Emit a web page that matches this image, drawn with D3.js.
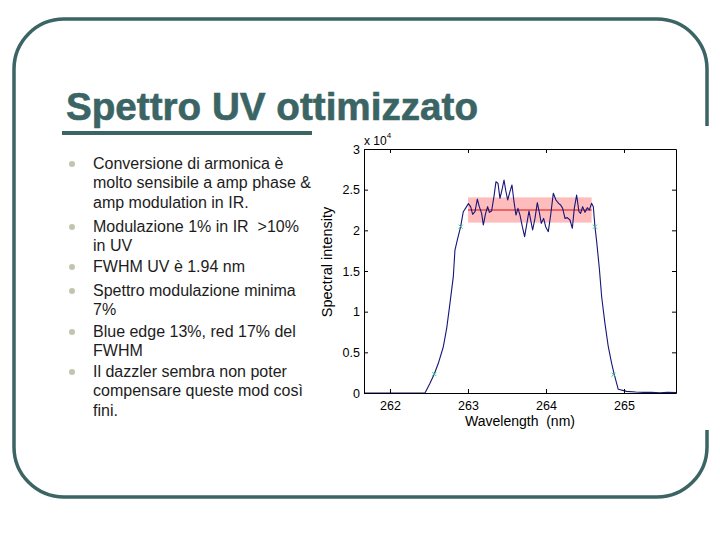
<!DOCTYPE html>
<html>
<head>
<meta charset="utf-8">
<script src="https://cdn.jsdelivr.net/npm/d3@7"></script>
<style>
  html, body { margin: 0; padding: 0; background: #fff; }
  svg { display: block; }
  text { white-space: pre; }
</style>
</head>
<body>
<svg id="slide" width="720" height="540"></svg>
<script>
// ---------------- DATA ----------------
const titleText = "Spettro UV ottimizzato";
const bullets = [
  ["Conversione di armonica è", "molto sensibile a amp phase &", "amp modulation in IR."],
  ["Modulazione 1% in IR  >10%", "in UV"],
  ["FWHM UV è 1.94 nm"],
  ["Spettro modulazione minima", "7%"],
  ["Blue edge 13%, red 17% del", "FWHM"],
  ["Il dazzler sembra non poter", "compensare queste mod così", "fini."]
];

// wavelength (nm) and spectral intensity (x 10^4)
const wavelength = [
  261.667, 261.9, 262.1, 262.3, 262.449, 262.513, 262.568, 262.620, 262.684, 262.727,
  262.769, 262.812, 262.833, 262.863, 262.906, 262.940, 262.974, 263.004, 263.034, 263.060,
  263.090, 263.120, 263.145, 263.175, 263.197, 263.226, 263.252, 263.274, 263.303, 263.333,
  263.359, 263.385, 263.410, 263.436, 263.462, 263.483, 263.509, 263.538, 263.564, 263.590,
  263.615, 263.641, 263.667, 263.697, 263.726, 263.752, 263.782, 263.808, 263.829, 263.859,
  263.889, 263.915, 263.940, 263.970, 263.996, 264.030, 264.060, 264.094, 264.128, 264.162,
  264.188, 264.214, 264.244, 264.273, 264.308, 264.338, 264.363, 264.393, 264.423, 264.444,
  264.470, 264.500, 264.530, 264.556, 264.585, 264.607, 264.628, 264.650, 264.684, 264.714,
  264.756, 264.799, 264.842, 264.872, 264.906, 264.927, 265.034, 265.150, 265.248, 265.350,
  265.462, 265.560, 265.667
];
const intensity = [
  0, 0, 0, 0, 0, 0.119, 0.233, 0.365, 0.569, 0.795,
  1.102, 1.430, 1.758, 1.881, 2.045, 2.229, 2.279, 2.328, 2.291, 2.197,
  2.229, 2.385, 2.291, 2.209, 2.066, 2.209, 2.291, 2.221, 2.238, 2.414,
  2.598, 2.578, 2.393, 2.496, 2.619, 2.496, 2.373, 2.475, 2.557, 2.352,
  2.188, 2.270, 2.188, 2.045, 1.922, 2.066, 2.238, 2.106, 2.004, 2.147,
  2.340, 2.221, 2.086, 2.147, 2.045, 1.984, 2.188, 2.455, 2.373, 2.332,
  2.311, 2.270, 2.147, 2.156, 2.127, 2.025, 2.270, 2.434, 2.229, 2.209,
  2.291, 2.221, 2.279, 2.250, 2.332, 2.291, 2.045, 1.861, 1.533, 1.184,
  0.856, 0.569, 0.365, 0.242, 0.119, 0.045, 0.020, 0.012, 0.008, 0.010,
  0.004, 0.008, 0.006
];

// half-maximum / edge markers
const markerWl  = [262.568, 262.906, 264.628, 264.866];
const markerInt = [0.233, 2.045, 2.045, 0.225];

// modulation band
const bandWl = [263.0, 264.585];
const bandInt = [2.095, 2.405];
const meanInt = 2.25;

const xDomain = [261.667, 265.667];
const yDomain = [0, 3];
const xTicks = [262, 263, 264, 265];
const yTicks = [0, 0.5, 1, 1.5, 2, 2.5, 3];
const xLabel = "Wavelength  (nm)";
const yLabel = "Spectral intensity";

// ---------------- DRAW ----------------
const svg = d3.select("#slide");
const teal = "#3b6464";
const sans = "'Liberation Sans', Arial, Helvetica, sans-serif";

// slide frame
svg.append("rect")
  .attr("x", 14).attr("y", 19).attr("width", 693).attr("height", 478)
  .attr("rx", 50).attr("ry", 50)
  .attr("fill", "none").attr("stroke", teal).attr("stroke-width", 3.5);

// title
svg.append("text")
  .attr("x", 66).attr("y", 120)
  .attr("font-family", sans).attr("font-weight", "bold")
  .attr("font-size", 38).attr("fill", teal)
  .attr("stroke", teal).attr("stroke-width", 0.6)
  .attr("textLength", 412).attr("lengthAdjust", "spacingAndGlyphs")
  .text(titleText);

svg.append("rect")
  .attr("x", 62).attr("y", 131).attr("width", 250).attr("height", 4)
  .attr("fill", teal);

// bullets
const firstBaselines = [169, 232, 272, 296, 337, 377];
const lineStep = 19.3;
bullets.forEach((lines, i) => {
  const b0 = firstBaselines[i];
  svg.append("circle")
    .attr("cx", 72).attr("cy", b0 - 5).attr("r", 3)
    .attr("fill", "#c4c4ae");
  lines.forEach((ln, j) => {
    svg.append("text")
      .attr("x", 93).attr("y", b0 + j * lineStep)
      .attr("font-family", sans).attr("font-size", 16)
      .attr("fill", "#1c1c1c")
      .text(ln);
  });
});

// figure background (covers frame where the picture is pasted)
svg.append("rect")
  .attr("x", 317).attr("y", 126).attr("width", 403).attr("height", 304)
  .attr("fill", "#fff");

// chart
const L = 364, R = 676, T = 149, B = 393;
const x = d3.scaleLinear().domain(xDomain).range([L, R]);
const y = d3.scaleLinear().domain(yDomain).range([B, T]);

const g = svg.append("g");

g.append("clipPath").attr("id", "clip")
  .append("rect").attr("x", L).attr("y", T).attr("width", R - L).attr("height", B - T);

const plot = g.append("g").attr("clip-path", "url(#clip)");

plot.append("rect")
  .attr("x", x(bandWl[0])).attr("width", x(bandWl[1]) - x(bandWl[0]))
  .attr("y", y(bandInt[1])).attr("height", y(bandInt[0]) - y(bandInt[1]))
  .attr("fill", "#ffbcbc");

plot.append("line")
  .attr("x1", x(bandWl[0])).attr("x2", x(bandWl[1]))
  .attr("y1", y(meanInt)).attr("y2", y(meanInt))
  .attr("stroke", "#d01010").attr("stroke-width", 1.2);

const pts = wavelength.map((w, i) => [w, intensity[i]]);
plot.append("path")
  .datum(pts)
  .attr("d", d3.line().x(d => x(d[0])).y(d => y(d[1])))
  .attr("fill", "none").attr("stroke", "#16167a").attr("stroke-width", 1.1)
  .attr("stroke-linejoin", "round");

const mk = markerWl.map((w, i) => [w, markerInt[i]]);
plot.selectAll("g.mk").data(mk).enter().append("g")
  .attr("transform", d => `translate(${x(d[0])},${y(d[1])})`)
  .each(function () {
    const s = d3.select(this);
    s.append("line").attr("x1", -2).attr("y1", -2).attr("x2", 2).attr("y2", 2);
    s.append("line").attr("x1", -2).attr("y1", 2).attr("x2", 2).attr("y2", -2);
  })
  .attr("stroke", "#3cc08c").attr("stroke-width", 1);

// axes (inward ticks, box)
const fmt = d => String(d);
const axB = g.append("g").attr("transform", `translate(0,${B})`)
  .call(d3.axisBottom(x).tickValues(xTicks).tickFormat(fmt).tickSize(-4).tickPadding(8).tickSizeOuter(0));
const axT = g.append("g").attr("transform", `translate(0,${T})`)
  .call(d3.axisTop(x).tickValues(xTicks).tickFormat("").tickSize(-4).tickSizeOuter(0));
const axL = g.append("g").attr("transform", `translate(${L},0)`)
  .call(d3.axisLeft(y).tickValues(yTicks).tickFormat(fmt).tickSize(-4).tickPadding(4).tickSizeOuter(0));
const axR = g.append("g").attr("transform", `translate(${R},0)`)
  .call(d3.axisRight(y).tickValues(yTicks).tickFormat("").tickSize(-4).tickSizeOuter(0));

[axB, axT, axL, axR].forEach(a => {
  a.selectAll("path.domain").attr("stroke", "#000").attr("stroke-width", 1);
  a.selectAll(".tick line").attr("stroke", "#000");
  a.selectAll("text").attr("font-family", sans).attr("font-size", 12.5).attr("fill", "#000");
});

// exponent label
const ex = g.append("text").attr("x", 364).attr("y", 145)
  .attr("font-family", sans).attr("font-size", 12).attr("fill", "#000");
ex.append("tspan").text("x 10");
ex.append("tspan").attr("dy", -7).attr("font-size", 8).text("4");

// axis labels
g.append("text")
  .attr("x", (L + R) / 2).attr("y", 426)
  .attr("text-anchor", "middle")
  .attr("font-family", sans).attr("font-size", 14).attr("fill", "#000")
  .text(xLabel);

g.append("text")
  .attr("transform", `translate(332,${(T + B) / 2 - 9}) rotate(-90)`)
  .attr("text-anchor", "middle")
  .attr("font-family", sans).attr("font-size", 14.5).attr("fill", "#000")
  .text(yLabel);
</script>
</body>
</html>
